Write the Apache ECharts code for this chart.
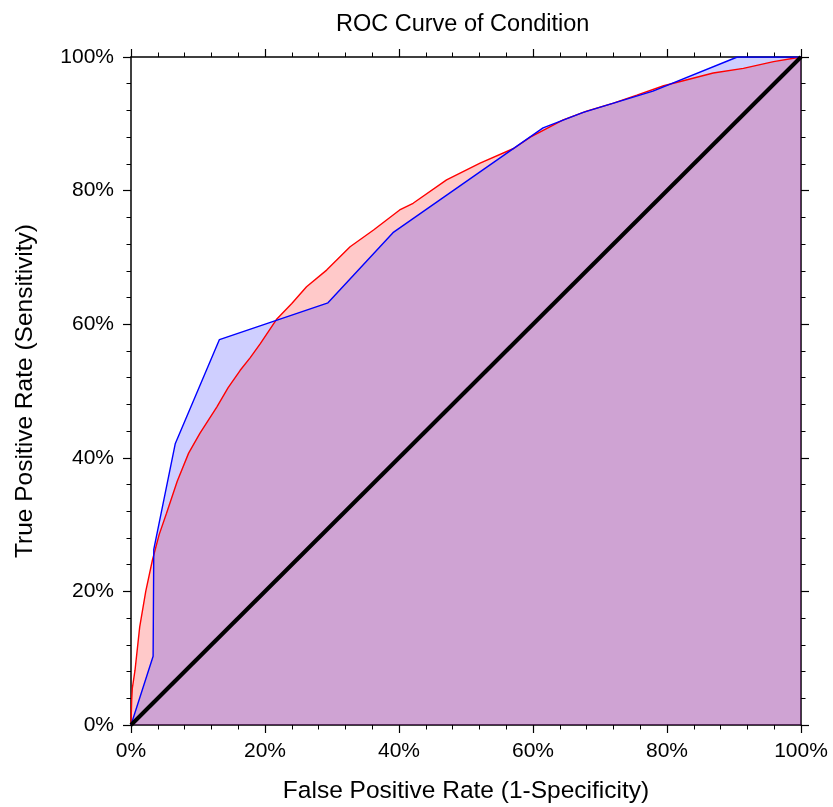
<!DOCTYPE html>
<html>
<head>
<meta charset="utf-8">
<script src="https://cdn.jsdelivr.net/npm/echarts@6/dist/echarts.min.js"></script>
<style>html,body{margin:0;padding:0;background:#fff}#c{width:833px;height:807px}</style>
</head>
<body>
<div id="c"></div>
<script>
// Tick values (percent)
var tickValues = [0, 20, 40, 60, 80, 100];
// Empirical ROC curve (red): FPR %, TPR %
var redFPR = [0, 0.1, 0.2, 0.6, 1.3, 2.2, 3.2, 4.2, 5.3, 6.9, 8.6, 10.3, 12.8, 14.5, 16.3, 17.8, 19.3, 21.7, 24.0, 26.2, 29.2, 32.7, 36.2, 40.1, 42.1, 47.1, 52.1, 57.1, 59.6, 64.5, 68.0, 72.0, 75.5, 79.5, 83.0, 86.9, 91.4, 95.9, 100];
var redTPR = [0, 3.7, 5.5, 8.2, 14.7, 20.0, 24.7, 28.5, 31.7, 36.5, 40.7, 43.7, 47.6, 50.5, 53.1, 55.0, 57.1, 60.7, 63.1, 65.6, 68.1, 71.6, 74.1, 77.1, 78.1, 81.6, 84.1, 86.3, 88.0, 90.6, 91.9, 93.1, 94.3, 95.7, 96.6, 97.6, 98.3, 99.3, 100];
// Stepped ROC curve (blue)
var blueFPR = [0, 3.3, 3.4, 6.6, 13.2, 29.4, 39.1, 61.5, 67.5, 77.9, 90.5, 100];
var blueTPR = [0, 10.3, 26.3, 42.1, 57.7, 63.2, 73.7, 89.4, 91.7, 94.9, 100, 100];
// Reference diagonal
var diagFPR = [0, 100];
var diagTPR = [0, 100];

function zip(a, b) { return a.map(function (v, i) { return [v, b[i]]; }); }

var FONT = '"Liberation Sans", Arial, sans-serif';
var chart = echarts.init(document.getElementById('c'));

function axisCommon(show, margin) {
  return {
    type: 'value', min: 0, max: 100, interval: 20,
    axisLine: { show: true, onZero: false, lineStyle: { color: '#000', width: 1.5 } },
    axisTick: { show: true, inside: false, length: 8, lineStyle: { color: '#000', width: 1.2 } },
    minorTick: { show: true, splitNumber: 5, length: 4.5, lineStyle: { color: '#000', width: 1 } },
    splitLine: { show: false },
    axisLabel: { show: show, formatter: '{value}%', color: '#000', fontSize: 21, fontFamily: FONT, margin: margin }
  };
}

var xb = axisCommon(true, 16);
xb.position = 'bottom';
xb.name = 'False Positive Rate (1-Specificity)';
xb.nameLocation = 'middle';
xb.nameGap = 54;
xb.nameTextStyle = { color: '#000', fontSize: 24.5, fontFamily: FONT };
var xt = axisCommon(false, 8);
xt.position = 'top';
var yl = axisCommon(true, 17);
yl.position = 'left';
yl.name = 'True Positive Rate (Sensitivity)';
yl.nameLocation = 'middle';
yl.nameGap = 93;
yl.nameTextStyle = { color: '#000', fontSize: 24.5, fontFamily: FONT };
var yr = axisCommon(false, 8);
yr.position = 'right';

chart.setOption({
  animation: false,
  backgroundColor: '#fff',
  title: {
    text: 'ROC Curve of Condition', left: 331, top: 8,
    textStyle: { color: '#000', fontSize: 23.5, fontWeight: 'normal', fontFamily: FONT }
  },
  grid: { left: 131, right: 32, top: 57, bottom: 82, containLabel: false, outerBoundsMode: 'none' },
  xAxis: [xb, xt],
  yAxis: [yl, yr],
  series: [
    { type: 'line', data: zip(redFPR, redTPR), symbol: 'none', lineStyle: { width: 0 },
      areaStyle: { color: 'rgba(255,0,0,0.21)', opacity: 1 }, z: 1 },
    { type: 'line', data: zip(blueFPR, blueTPR), symbol: 'none', lineStyle: { width: 0 },
      areaStyle: { color: 'rgba(0,0,255,0.19)', opacity: 1 }, z: 2 },
    { type: 'line', data: zip(redFPR, redTPR), symbol: 'none', lineStyle: { width: 1.4, color: '#ff0000' }, z: 3 },
    { type: 'line', data: zip(blueFPR, blueTPR), symbol: 'none', lineStyle: { width: 1.4, color: '#0000ff' }, z: 4 },
    { type: 'line', data: zip(diagFPR, diagTPR), symbol: 'none', lineStyle: { width: 4, color: '#000' }, z: 5 }
  ]
});
</script>
</body>
</html>
